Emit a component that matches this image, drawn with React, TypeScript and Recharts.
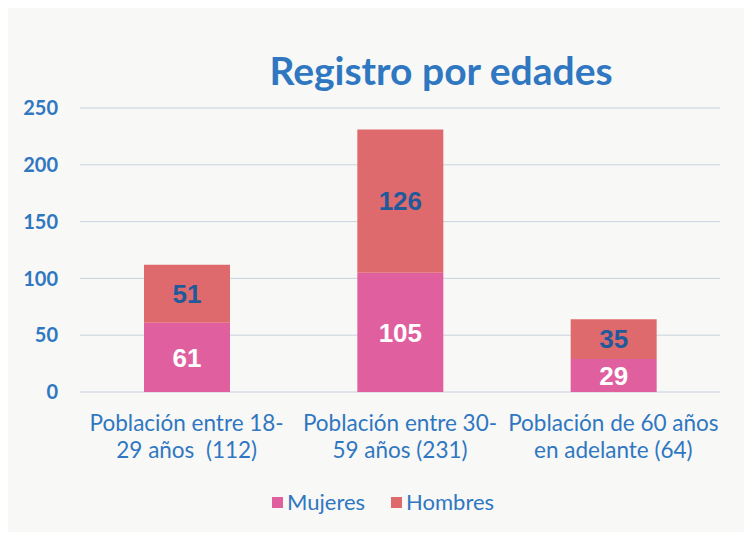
import React from 'react';
import { BarChart, Bar, XAxis, YAxis, CartesianGrid, LabelList } from 'recharts';

const categories = [
  ['Población entre 18-', '29 años  (112)'],
  ['Población entre 30-', '59 años (231)'],
  ['Población de 60 años', 'en adelante (64)'],
];
const mujeres = [61, 105, 29];
const hombres = [51, 126, 35];
const yTicks = [0, 50, 100, 150, 200, 250];

const data = categories.map((c, i) => ({
  name: c.join(' '),
  Mujeres: mujeres[i],
  Hombres: hombres[i],
}));

const BLUE = '#2f77c0';
const PINK = '#e0609f';
const RED = '#df6a6d';
const FONT = 'Lato, "Open Sans", sans-serif';
const NUM_FONT = "'Liberation Sans', Arial, sans-serif";

const CategoryTick = (props: any) => {
  const { x, y, payload, index } = props;
  const lines = categories[index] || [payload.value];
  return (
    <text x={x} y={y} textAnchor="middle" fill={BLUE} fontSize={22.5} fontFamily={FONT}>
      {lines.map((l: string, i: number) => (
        <tspan key={i} x={x} dy={i === 0 ? 31 : 27} style={{ whiteSpace: 'pre' }}>
          {l}
        </tspan>
      ))}
    </text>
  );
};

export default function App() {
  return (
    <div style={{ margin: -8, position: 'relative', width: 752, height: 540, background: '#f8f8f7' }}>
      <div
        style={{
          position: 'absolute',
          top: 46,
          left: 131,
          width: 620,
          textAlign: 'center',
          fontFamily: FONT,
          fontWeight: 700,
          fontSize: 39,
          lineHeight: '48px',
          color: BLUE,
        }}
      >
        Registro por edades
      </div>
      <BarChart
        width={752}
        height={540}
        data={data}
        margin={{ top: 108, right: 32, left: 0, bottom: 88 }}
      >
        <CartesianGrid vertical={false} stroke="#c9d2de" />
        <XAxis
          dataKey="name"
          axisLine={false}
          tickLine={false}
          interval={0}
          height={60}
          tick={<CategoryTick />}
        />
        <YAxis
          width={80}
          domain={[0, 250]}
          ticks={yTicks}
          axisLine={false}
          tickLine={false}
          tick={{ fill: BLUE, fontSize: 20, fontFamily: FONT, fontWeight: 700 }}
          dx={-14}
        />
        <Bar dataKey="Mujeres" stackId="a" fill={PINK} isAnimationActive={false} barSize={86}>
          <LabelList
            dataKey="Mujeres"
            position="center"
            fill="#ffffff"
            fontSize={26}
            fontWeight={700}
            fontFamily={NUM_FONT}
          />
        </Bar>
        <Bar dataKey="Hombres" stackId="a" fill={RED} isAnimationActive={false} barSize={86}>
          <LabelList
            dataKey="Hombres"
            position="center"
            fill="#1f5a9a"
            fontSize={26}
            fontWeight={700}
            fontFamily={NUM_FONT}
          />
        </Bar>
      </BarChart>
      <div
        style={{
          position: 'absolute',
          top: 487,
          left: 272,
          display: 'flex',
          gap: 26,
          fontFamily: FONT,
          fontSize: 22,
          lineHeight: '30px',
          color: BLUE,
        }}
      >
        {[
          ['Mujeres', PINK],
          ['Hombres', RED],
        ].map(([label, color]) => (
          <div key={label} style={{ display: 'flex', alignItems: 'center', gap: 4 }}>
            <span style={{ width: 11, height: 11, background: color, display: 'inline-block' }} />
            <span>{label}</span>
          </div>
        ))}
      </div>
    </div>
  );
}
